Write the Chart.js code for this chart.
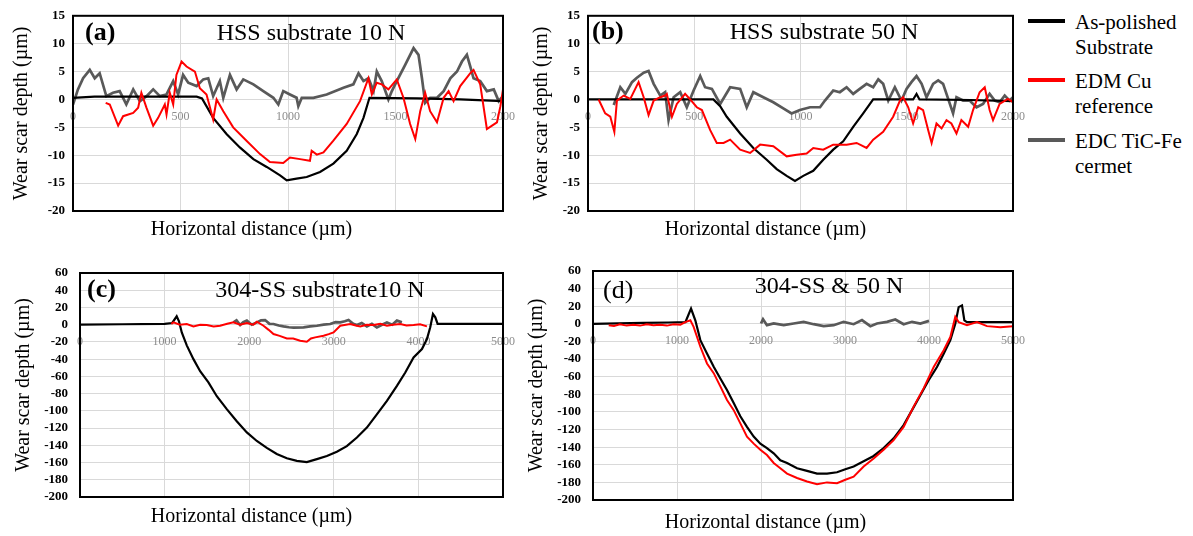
<!DOCTYPE html>
<html>
<head>
<meta charset="utf-8">
<script src="https://cdn.jsdelivr.net/npm/chart.js@4/dist/chart.umd.min.js"></script>
<style>
  body { margin: 0; background: #fff; width: 1193px; height: 536px; overflow: hidden; position: relative; }
  canvas { position: absolute; }
  .leg { position: absolute; left: 1028px; font-family: 'Liberation Serif', serif; font-size: 21px; line-height: 25px; color: #000; }
  .leg span { position: absolute; left: 0; top: 9px; width: 37px; height: 4px; }
  .leg div { margin-left: 47px; white-space: nowrap; }
</style>
</head>
<body>
<canvas id="chartA" width="520" height="244" style="left:0;top:0"></canvas>
<canvas id="chartB" width="510" height="244" style="left:518px;top:0"></canvas>
<canvas id="chartC" width="520" height="286" style="left:0;top:245px"></canvas>
<canvas id="chartD" width="510" height="292" style="left:518px;top:245px"></canvas>

<div class="leg" style="top:10px"><span style="background:#000"></span><div>As-polished<br>Substrate</div></div>
<div class="leg" style="top:69px"><span style="background:#ff0000"></span><div>EDM Cu<br>reference</div></div>
<div class="leg" style="top:129px"><span style="background:#595959"></span><div>EDC TiC-Fe<br>cermet</div></div>

<script>
// series names
const seriesNames = ['As-polished Substrate', 'EDM Cu reference', 'EDC TiC-Fe cermet'];

// (a) HSS substrate 10 N  -- [distance µm, depth µm]
const aSubstrate = [[0,0.3],[100,0.5],[300,0.5],[575,0.5],[600,0.2],[652,-3.3],[714,-6.2],[776,-8.6],[839,-10.7],[901,-12.1],[963,-13.6],[994,-14.5],[1040,-14.2],[1087,-13.9],[1149,-13],[1211,-11.5],[1273,-9.2],[1320,-6.2],[1351,-3.3],[1379,0.3],[1600,0.2],[1800,0],[2000,-0.3]];
const aEdmCu = [[152,-0.6],[171,-0.9],[210,-4.7],[233,-3],[280,-2.4],[303,-1.5],[318,1.2],[342,-1.5],[373,-4.7],[396,-3.3],[427,-0.9],[435,-2.7],[450,1.2],[466,-0.9],[481,4.4],[505,6.8],[528,5.9],[567,5],[590,2],[621,0.9],[652,-3.6],[668,0],[699,-2.1],[745,-5],[807,-7.4],[870,-9.8],[916,-11.2],[978,-11.4],[1009,-10.4],[1056,-10.7],[1102,-11],[1110,-9.2],[1134,-9.9],[1165,-9.5],[1211,-7.4],[1273,-4.4],[1335,-0.3],[1374,3.8],[1390,0.9],[1413,3],[1436,2.7],[1467,1.8],[1506,3.6],[1537,0.3],[1568,-4.4],[1592,-7.1],[1615,-2.1],[1638,1.2],[1661,-2.1],[1693,-4.1],[1724,0.3],[1747,1.5],[1770,-0.3],[1801,2.4],[1848,4.7],[1863,5.3],[1894,2.7],[1925,-5.3],[1949,-4.7],[1972,-4.1],[1988,-1.2],[2000,1.8]];
const aTicFe = [[0,-0.9],[23,1.8],[47,3.8],[78,5.3],[101,3.8],[124,4.7],[155,0.6],[186,1.2],[217,1.5],[248,-0.9],[280,1.8],[311,-0.3],[342,0.6],[373,1.8],[404,0.6],[435,0.9],[466,3.3],[489,0.9],[512,4.4],[536,3],[575,2.4],[606,3.6],[629,3.8],[652,0.6],[683,3.3],[699,0.3],[730,4.4],[761,1.8],[792,3.6],[839,2.7],[885,1.5],[932,0.3],[955,-0.9],[978,1.5],[1009,0.9],[1040,0.3],[1048,-1.2],[1064,0.3],[1118,0.3],[1180,0.9],[1258,2.1],[1304,2.7],[1328,4.7],[1351,3.3],[1374,3.8],[1398,1.5],[1413,5],[1436,3.3],[1467,0],[1483,1.5],[1506,3.3],[1545,6.2],[1584,9.2],[1607,8],[1623,3.8],[1638,-0.6],[1661,0.3],[1693,0.3],[1724,1.5],[1755,3.8],[1786,5],[1809,6.8],[1832,8],[1848,5.9],[1863,3.8],[1894,3.3],[1925,1.5],[1957,1.8],[1980,-0.3],[2000,0.6]];

// (b) HSS substrate 50 N
const bSubstrate = [[0,0],[300,0],[590,0],[622,-1.2],[653,-3.1],[716,-6.1],[778,-8.7],[841,-10.8],[888,-12.5],[935,-13.7],[974,-14.6],[1013,-13.7],[1060,-12.8],[1107,-10.8],[1154,-9],[1201,-7.5],[1248,-4.9],[1295,-2.5],[1342,0],[1530,0],[1546,1],[1560,0],[1800,-0.1],[2000,-0.3]];
const bEdmCu = [[50,0],[81,-2.5],[105,-3.1],[124,-5.8],[136,-0.2],[168,0.7],[199,0.1],[238,3.1],[262,0.4],[285,-2.8],[309,-0.2],[340,0.4],[363,0.7],[371,1],[395,-3.1],[418,-0.8],[457,1],[481,0],[512,-1.4],[536,-1.9],[575,-5.5],[606,-7.8],[638,-7.8],[669,-7.2],[716,-9],[763,-9.6],[810,-8.1],[872,-8.4],[935,-10.2],[982,-9.9],[1029,-9.7],[1060,-8.7],[1107,-9],[1154,-8.1],[1217,-8.1],[1264,-7.8],[1311,-8.7],[1342,-7.2],[1389,-5.8],[1436,-3.1],[1468,-0.2],[1483,0.4],[1507,-1.4],[1530,-4.3],[1554,-1.4],[1577,-1.9],[1601,-5.5],[1617,-7.8],[1640,-4.3],[1664,-5.2],[1687,-3.7],[1710,-4.3],[1734,-6.1],[1757,-3.7],[1789,-4.9],[1812,-1.9],[1843,1.3],[1867,2.2],[1890,-1.9],[1906,-3.7],[1937,-0.8],[1976,0.1],[2000,-0.5]];
const bTicFe = [[121,-1],[152,2.2],[176,1],[207,3.1],[230,3.9],[262,4.8],[285,5.1],[309,2.8],[340,0.7],[363,1.3],[379,-3.7],[403,0.4],[434,1.3],[465,-1.4],[497,1.6],[528,4.2],[551,2.2],[583,1.9],[622,-0.8],[669,2.2],[716,1.9],[747,-1.4],[778,1.3],[825,0.4],[872,-0.5],[919,-1.6],[958,-2.5],[997,-1.9],[1045,-1.4],[1092,-1.4],[1115,-0.2],[1154,1.6],[1185,1.3],[1217,2.2],[1248,1],[1279,1.9],[1311,2.8],[1342,2.2],[1366,3.6],[1389,2.8],[1413,-0.2],[1444,2.2],[1475,-0.2],[1499,1.9],[1522,3.1],[1546,4.2],[1570,2.8],[1593,0.4],[1624,2.8],[1648,3.4],[1671,2.8],[1695,0.1],[1718,-2.5],[1734,0.4],[1765,-0.2],[1796,-0.2],[1828,-1.4],[1859,-0.8],[1890,1],[1914,-0.2],[1937,-0.5],[1961,0.7],[1984,-0.2],[2000,0.4]];

// (c) 304-SS substrate 10 N
const cSubstrate = [[0,0],[500,0.5],[1000,1],[1090,2],[1143,9.7],[1170,4],[1203,-9],[1262,-24],[1341,-40],[1420,-54],[1518,-67],[1617,-83],[1735,-98],[1853,-112],[1972,-125],[2090,-135],[2208,-143],[2326,-150],[2445,-155],[2563,-158],[2681,-159.5],[2800,-156],[2918,-152.5],[3036,-147.5],[3154,-141],[3273,-131],[3391,-119.5],[3509,-104],[3628,-88.5],[3746,-71],[3845,-55.5],[3943,-38],[4042,-28.3],[4101,-16.7],[4140,-3],[4172,12.4],[4200,8.5],[4227,1],[4500,1],[5000,1]];
const cEdmCu = [[1080,1],[1104,2.7],[1180,0],[1262,0.8],[1341,-2],[1420,0],[1498,-0.4],[1580,-2],[1656,-1.2],[1740,1],[1814,2.7],[1893,0],[1972,2],[2050,0],[2090,3.5],[2169,-1.2],[2230,-6],[2287,-10.9],[2360,-13],[2445,-15.9],[2520,-16],[2603,-18.6],[2681,-19.8],[2730,-16],[2780,-14.7],[2879,-12.8],[2940,-11],[2997,-8.9],[3076,-1.2],[3194,0.8],[3260,-1],[3312,-2],[3390,0],[3470,-0.4],[3550,1],[3628,-1.2],[3700,0],[3785,0.8],[3860,-1],[3943,-0.4],[4020,0.5],[4101,-2]];
const cTicFe = [[1814,2.7],[1850,5],[1893,-0.4],[1930,3],[1972,4.7],[2030,0],[2090,2.7],[2140,5],[2188,5.4],[2240,1],[2287,0.8],[2350,-1],[2405,-2],[2470,-3],[2524,-3.5],[2642,-3.1],[2720,-2],[2800,-1.2],[2880,0],[2957,0.8],[3020,3],[3076,2.7],[3130,4],[3174,5.4],[3230,1],[3273,-0.4],[3330,2],[3391,-2],[3450,1],[3509,-3.1],[3570,0],[3628,2.7],[3690,0],[3746,4.7],[3805,2.7]];

// (d) 304-SS & 50 N
const dSubstrate = [[0,0],[300,0.5],[600,1],[900,1.5],[1100,2],[1167,17.4],[1218,4],[1278,-18.5],[1357,-33.6],[1437,-48.8],[1516,-62],[1595,-75],[1675,-90],[1754,-105],[1833,-117],[1913,-128],[1992,-136],[2071,-141],[2151,-147],[2230,-155],[2310,-158],[2429,-164],[2548,-167],[2667,-170],[2786,-170],[2905,-168.5],[3004,-165],[3103,-162],[3222,-156],[3341,-150],[3460,-141],[3579,-130],[3698,-115],[3798,-98],[3897,-81],[3996,-64],[4095,-49],[4175,-34],[4254,-18.5],[4313,0],[4353,19],[4393,21],[4421,4],[4452,2],[5000,2]];
const dEdmCu = [[187,-1.5],[250,-2.5],[320,-0.5],[400,-2],[480,-1],[560,-2],[640,-0.5],[720,-1.5],[800,-1],[880,-2],[960,-0.5],[1040,-1],[1099,2],[1159,4],[1198,-3.4],[1278,-26],[1357,-45],[1437,-56],[1516,-71],[1595,-86.5],[1675,-98],[1754,-113],[1833,-128],[1913,-136],[1992,-143],[2071,-149],[2151,-158],[2230,-164],[2310,-170],[2429,-175],[2548,-179],[2667,-182],[2786,-180],[2905,-181],[3004,-177],[3103,-173.5],[3222,-162],[3341,-153],[3460,-143],[3579,-132],[3698,-117],[3817,-94],[3937,-73],[4056,-49],[4175,-30],[4254,-15],[4313,8],[4353,2],[4452,-1.5],[4571,2],[4690,-2.6],[4849,-4],[5000,-2.6]];
const dTicFe = [[2000,0.4],[2024,5.3],[2071,-1.5],[2151,0.4],[2270,-1.5],[2389,0.4],[2508,2.3],[2627,-0.4],[2746,-2.6],[2865,-1.5],[2984,2.3],[3103,-0.4],[3202,4.2],[3302,-2.6],[3381,0.4],[3500,2.3],[3599,4.9],[3698,-0.4],[3798,2.3],[3897,0.4],[4000,3.4]];

const FONT = "'Liberation Serif', serif";

const panelText = {
  id: 'panelText',
  afterDraw(chart, args, o) {
    const ctx = chart.ctx, a = chart.chartArea;
    ctx.save();
    ctx.strokeStyle = '#000';
    ctx.lineWidth = 2;
    ctx.strokeRect(a.left, a.top, a.right - a.left, a.bottom - a.top);
    ctx.fillStyle = '#000';
    ctx.textBaseline = 'alphabetic';
    ctx.textAlign = 'left';
    ctx.font = (o.tagBold ? 'bold ' : '') + '26px ' + FONT;
    ctx.fillText(o.tag, o.tagX, o.tagY);
    ctx.textAlign = 'center';
    ctx.font = '24px ' + FONT;
    ctx.fillText(o.title, o.titleX, o.titleY);
    ctx.restore();
  }
};

function toXY(arr) {
  return arr.map(p => ({ x: p[0], y: p[1] }));
}

function makePanel(id, sub, edm, tic, cfg) {
  new Chart(document.getElementById(id), {
    type: 'line',
    data: {
      datasets: [
        { label: seriesNames[1], data: toXY(edm), borderColor: '#ff0000', borderWidth: 2, order: 0 },
        { label: seriesNames[0], data: toXY(sub), borderColor: '#000000', borderWidth: 2.2, order: 1 },
        { label: seriesNames[2], data: toXY(tic), borderColor: '#595959', borderWidth: 2.7, order: 2 }
      ]
    },
    options: {
      responsive: false,
      animation: false,
      elements: { point: { radius: 0 }, line: { tension: 0 } },
      layout: { padding: cfg.pad },
      scales: {
        x: {
          type: 'linear',
          position: { y: 0 },
          min: 0, max: cfg.xMax,
          ticks: { stepSize: cfg.xStep, autoSkip: false, maxRotation: 0, color: '#8c8c8c', padding: 10,
                   font: { family: FONT, size: 12 }, callback: v => String(v) },
          grid: { color: '#d9d9d9', drawTicks: false },
          border: { display: false },
          // labels at both ends may overhang the frame, as in the original
          afterFit(s) { s.paddingLeft = 0; s.paddingRight = 0; }
        },
        y: {
          min: cfg.yMin, max: cfg.yMax,
          ticks: { stepSize: cfg.yStep, autoSkip: false, color: '#000', padding: cfg.tickPad,
                   font: { family: FONT, size: 13, weight: 'bold' }, callback: v => String(v) },
          grid: { color: '#d9d9d9', drawTicks: false },
          border: { display: false },
          title: { display: true, text: 'Wear scar depth (µm)', color: '#000',
                   font: { family: FONT, size: 20 }, padding: { top: cfg.yTitlePad, bottom: 0 } },
          afterFit(s) { s.width = cfg.yWidth; }
        }
      },
      plugins: {
        legend: { display: false },
        tooltip: { enabled: false },
        title: { display: true, position: 'bottom', text: 'Horizontal distance (µm)', color: '#000',
                 font: { family: FONT, size: 20, weight: 'normal' }, padding: { top: cfg.xTitlePad, bottom: 2 } },
        panelText: cfg.text
      }
    },
    plugins: [panelText]
  });
}

makePanel('chartA', aSubstrate, aEdmCu, aTicFe, {
  xMax: 2000, xStep: 500, yMin: -20, yMax: 15, yStep: 5,
  pad: { left: 0, right: 17, top: 14, bottom: 0 }, yWidth: 73, tickPad: 8, yTitlePad: 10, xTitlePad: 7,
  text: { tag: '(a)', tagBold: true, tagX: 85, tagY: 40, title: 'HSS substrate 10 N', titleX: 311, titleY: 40 }
});
makePanel('chartB', bSubstrate, bEdmCu, bTicFe, {
  xMax: 2000, xStep: 500, yMin: -20, yMax: 15, yStep: 5,
  pad: { left: 0, right: 15, top: 14, bottom: 0 }, yWidth: 70, tickPad: 8, yTitlePad: 12, xTitlePad: 7,
  text: { tag: '(b)', tagBold: true, tagX: 74, tagY: 39, title: 'HSS substrate 50 N', titleX: 306, titleY: 39 }
});
makePanel('chartC', cSubstrate, cEdmCu, cTicFe, {
  xMax: 5000, xStep: 1000, yMin: -200, yMax: 60, yStep: 20,
  pad: { left: 0, right: 17, top: 28, bottom: 0 }, yWidth: 80, tickPad: 12, yTitlePad: 12, xTitlePad: 8,
  text: { tag: '(c)', tagBold: true, tagX: 87, tagY: 52, title: '304-SS substrate10 N', titleX: 320, titleY: 52 }
});
makePanel('chartD', dSubstrate, dEdmCu, dTicFe, {
  xMax: 5000, xStep: 1000, yMin: -200, yMax: 60, yStep: 20,
  pad: { left: 0, right: 15, top: 26, bottom: 0 }, yWidth: 75, tickPad: 12, yTitlePad: 7, xTitlePad: 11,
  text: { tag: '(d)', tagBold: false, tagX: 85, tagY: 53, title: '304-SS & 50 N', titleX: 311, titleY: 48 }
});
</script>
</body>
</html>
